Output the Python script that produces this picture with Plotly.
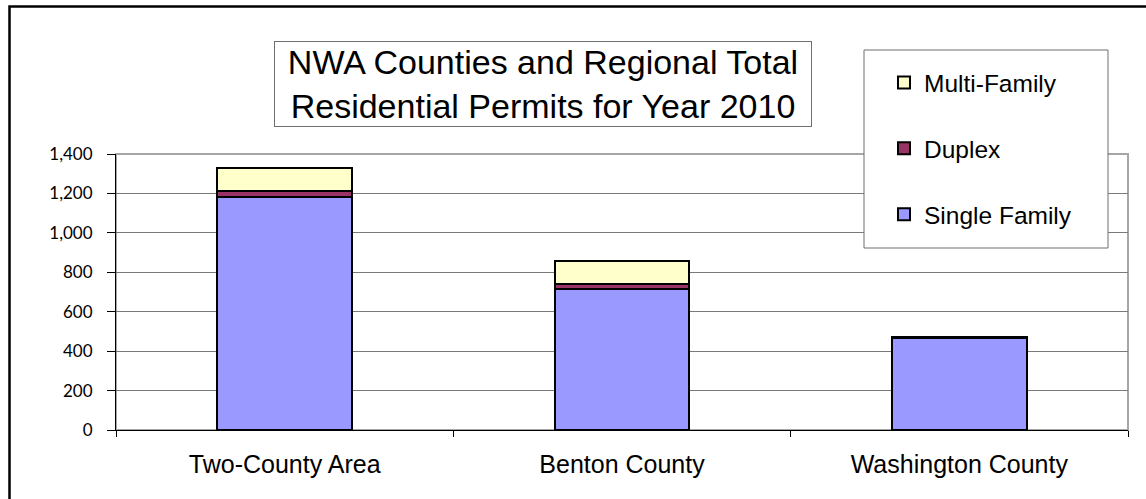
import plotly.graph_objects as go

# Residential permits issued in 2010, by area and housing type
areas = ["Two-County Area", "Benton County", "Washington County"]
single_family = [1183, 717, 466]
duplex = [28, 26, 2]
multi_family = [119, 113, 6]

y_ticks = [0, 200, 400, 600, 800, 1000, 1200, 1400]
y_tick_text = ["0", "200", "400", "600", "800", "1,000", "1,200", "1,400"]

W, H = 1146, 499
L, R, T, B = 116, 18, 154, 69
PW, PH = W - L - R, H - T - B


def px(x):
    return (x - L) / PW


def py(y):
    return (H - B - y) / PH


# (name, values, colour, legend rank) - stacked bottom to top
series = [
    ("Single Family", single_family, "#9999FF", 3),
    ("Duplex", duplex, "#993366", 2),
    ("Multi-Family", multi_family, "#FFFFCC", 1),
]

fig = go.Figure()
for name, vals, color, rank in series:
    fig.add_trace(go.Bar(
        x=areas, y=vals, name=name, legendgroup=name, legendrank=rank,
        marker=dict(color=color, line=dict(color="black", width=2)),
    ))

fig.update_layout(
    width=W, height=H,
    margin=dict(l=L, r=R, t=T, b=B, autoexpand=False),
    barmode="stack", bargap=0.6,
    paper_bgcolor="white", plot_bgcolor="white",
    font=dict(family="Liberation Sans, Arial, sans-serif", color="black"),
    showlegend=True,
    legend=dict(
        x=px(884), y=py(60), xanchor="left", yanchor="top",
        traceorder="grouped", tracegroupgap=31,
        font=dict(size=24.5, family="Liberation Sans, Arial, sans-serif"),
        bgcolor="rgba(0,0,0,0)", borderwidth=0,
    ),
    xaxis=dict(
        showline=True, linecolor="black", linewidth=1,
        ticks="outside", tickson="boundaries", ticklen=6, tickcolor="black",
        tickfont=dict(size=25), ticklabelstandoff=12,
        showgrid=False, fixedrange=True,
    ),
    yaxis=dict(
        range=[0, 1400], tickvals=y_ticks, ticktext=y_tick_text,
        showline=True, linecolor="black", linewidth=1,
        ticks="outside", ticklen=8, tickcolor="black",
        tickfont=dict(size=17, family="Lato, Open Sans, sans-serif"),
        ticklabelstandoff=11,
        showgrid=True, gridcolor="#7a7a7a", gridwidth=1,
        zeroline=False, fixedrange=True,
    ),
)

# plot area border (light gray)
fig.add_shape(type="rect", xref="paper", yref="paper", x0=0, x1=1, y0=0, y1=1,
              line=dict(color="#a6a6a6", width=2), layer="between")

# outer chart frame
fig.add_shape(type="rect", xref="paper", yref="paper",
              x0=px(9.5), x1=px(W + 20), y0=py(H + 20), y1=py(6.5),
              line=dict(color="black", width=2.5), layer="below")

# legend frame
fig.add_shape(type="rect", xref="paper", yref="paper",
              x0=px(864), x1=px(1108), y0=py(248), y1=py(50),
              line=dict(color="#6f6f6f", width=1), fillcolor="white", layer="above")

# boxed chart title
fig.add_annotation(
    xref="paper", yref="paper", x=px(543), y=py(84),
    xanchor="center", yanchor="middle", showarrow=False,
    text="NWA Counties and Regional Total<br>Residential Permits for Year 2010",
    font=dict(size=34, family="Liberation Sans, Arial, sans-serif", color="black"),
    width=534, height=82, borderpad=1,
    bordercolor="#6f6f6f", borderwidth=1, bgcolor="white",
)

fig.write_html("out.html")
